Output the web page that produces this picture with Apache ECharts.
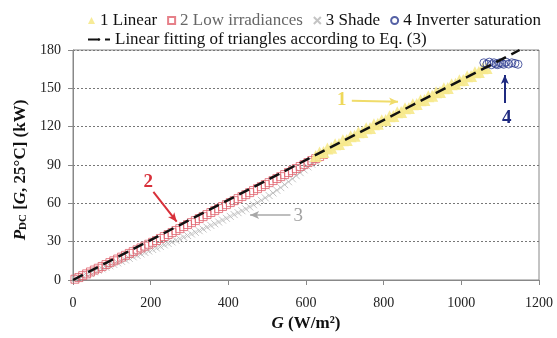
<!DOCTYPE html>
<html>
<head>
<meta charset="utf-8">
<script src="https://cdn.jsdelivr.net/npm/echarts@6/dist/echarts.min.js"></script>
<style>
  html, body { margin: 0; padding: 0; background: #fff; }
  #chart { width: 557px; height: 338px; }
</style>
</head>
<body>
<div id="chart"></div>
<script>
// series names
var nameLinear = '1 Linear';
var nameLow = '2 Low irradiances';
var nameShade = '3 Shade';
var nameSat = '4 Inverter saturation';
var nameFit = 'Linear fitting of triangles according to Eq. (3)';

// axis ticks
var xTicks = [0, 200, 400, 600, 800, 1000, 1200];
var yTicks = [0, 30, 60, 90, 120, 150, 180];

// 2 Low irradiances (G, P)
var lowG = [5, 15, 25, 35, 45, 55, 65, 75, 85, 95, 105, 115, 125, 135, 145, 155, 165, 175, 185, 195,
  205, 215, 225, 235, 245, 255, 265, 275, 285, 295, 305, 315, 325, 335, 345, 355, 365, 375, 385, 395,
  405, 415, 425, 435, 445, 455, 465, 475, 485, 495, 505, 515, 525, 535, 545, 555, 565, 575, 585, 595,
  605, 615, 625, 635, 645];
var lowP = [0.6, 1.9, 3.4, 4.8, 6.3, 7.8, 9.2, 10.6, 12.1, 13.6, 15.0, 16.4, 17.9, 19.3, 20.8, 22.2, 23.6, 25.1, 26.5, 28.0,
  29.5, 30.9, 32.5, 34.0, 35.6, 37.1, 38.7, 40.2, 41.8, 43.4, 44.9, 46.5, 48.1, 49.6, 51.2, 52.8, 54.3, 55.9, 57.5, 59.0,
  60.6, 62.1, 63.7, 65.3, 66.8, 68.4, 70.0, 71.5, 73.1, 74.7, 76.2, 77.8, 79.4, 80.9, 82.5, 84.1, 85.6, 87.2, 88.8, 90.3,
  91.9, 93.5, 95.0, 96.6, 98.2];

// 3 Shade (G, P)
var shadeG = [5, 15, 25, 35, 45, 55, 65, 75, 85, 95, 105, 115, 125, 135, 145, 155, 165, 175, 185, 195,
  205, 215, 225, 235, 245, 255, 265, 275, 285, 295, 305, 315, 325, 335, 345, 355, 365, 375, 385, 395,
  405, 415, 425, 435, 445, 455, 465, 475, 485, 495, 505, 515, 525, 535, 545, 555, 565, 575, 585, 595,
  605, 615, 625];
var shadeP = [0.6, 1.7, 2.9, 4.1, 5.2, 6.4, 7.6, 8.7, 9.9, 11.1, 12.2, 13.4, 14.6, 15.7, 16.9, 18.1, 19.2, 20.4, 21.6, 22.7,
  23.9, 25.0, 26.2, 27.5, 28.6, 29.8, 31.1, 32.2, 33.5, 34.8, 36.0, 37.3, 38.6, 39.9, 41.3, 42.7, 44.0, 45.4, 46.9, 48.3,
  49.8, 51.2, 52.7, 54.2, 55.6, 57.2, 58.9, 60.6, 62.4, 64.3, 66.1, 68.1, 70.2, 72.3, 74.6, 76.9, 79.2, 81.6, 84.0, 86.2,
  88.5, 90.6, 92.8];

// 1 Linear (G, P)
var linG = [625, 635, 645, 655, 665, 675, 685, 695, 705, 715, 725, 735, 745, 755, 765, 775, 785, 795, 805, 815,
  825, 835, 845, 855, 865, 875, 885, 895, 905, 915, 925, 935, 945, 955, 965, 975, 985, 995, 1005, 1015,
  1025, 1035, 1045, 1055, 1065];
var linP = [97.0, 99.8, 100.2, 103.0, 103.5, 106.2, 106.5, 109.3, 109.6, 112.5, 112.8, 115.6, 115.9, 118.8, 119.0, 121.9, 122.2, 125.0, 125.3, 128.1,
  128.4, 131.3, 131.5, 134.4, 134.7, 137.5, 137.8, 140.7, 140.9, 143.8, 144.1, 146.9, 147.2, 150.1, 150.3, 153.2, 153.5, 156.3, 156.6, 159.4,
  159.7, 162.6, 162.8, 165.7, 165.9];

// 4 Inverter saturation (G, P)
var satG = [1058, 1066, 1072, 1078, 1084, 1089, 1094, 1099, 1104, 1109, 1115, 1122, 1130, 1138, 1146];
var satP = [170.0, 169.0, 170.5, 168.5, 170.0, 169.0, 168.5, 170.0, 169.5, 168.8, 170.5, 169.0, 170.0, 169.5, 168.8];

// linear fit, Eq. (3)
var fitG = [0, 1150];
var fitP = [0, 180];

function pairs(xs, ys) {
  return xs.map(function (x, i) { return [x, ys[i]]; });
}

var serif = 'Liberation Serif';
var chart = echarts.init(document.getElementById('chart'));

var option = {
  animation: false,
  backgroundColor: '#fff',
  textStyle: { fontFamily: serif },
  grid: {
    left: 73, right: 18, top: 50, bottom: 58,
    show: true, borderColor: '#888', borderWidth: 1
  },
  legend: [
    {
      left: 83, top: 7,
      itemWidth: 7, itemHeight: 7, itemGap: 10,
      textStyle: { fontFamily: serif, fontSize: 17, color: '#111' },
      data: [
        { name: nameLinear },
        { name: nameLow, textStyle: { color: '#666' } },
        { name: nameShade },
        { name: nameSat }
      ]
    },
    {
      left: 82, top: 26,
      itemWidth: 22, itemHeight: 3, itemGap: 10,
      textStyle: { fontFamily: serif, fontSize: 17, color: '#111' },
      data: [nameFit]
    }
  ],
  xAxis: {
    type: 'value', min: 0, max: 1200, interval: 200,
    name: '{i|G}{n| (W/m²)}',
    nameLocation: 'middle', nameGap: 34,
    nameTextStyle: {
      rich: {
        i: { fontFamily: serif, fontSize: 17, fontWeight: 'bold', fontStyle: 'italic', color: '#111' },
        n: { fontFamily: serif, fontSize: 17, fontWeight: 'bold', color: '#111' }
      }
    },
    axisLine: { lineStyle: { color: '#888' } },
    axisTick: { show: true, length: 5, lineStyle: { color: '#888' } },
    axisLabel: {
      margin: 16, fontFamily: serif, fontSize: 14, color: '#222',
      formatter: function (v) { return xTicks.indexOf(v) >= 0 ? String(v) : ''; }
    },
    splitLine: { show: false }
  },
  yAxis: {
    type: 'value', min: 0, max: 180, interval: 30,
    name: '{i|P}{sub|DC}{n| [}{i|G}{n|, 25°C] (kW)}',
    nameLocation: 'middle', nameGap: 42, nameRotate: 90,
    nameTextStyle: {
      padding: [0, 10, 0, 0],
      rich: {
        i: { fontFamily: serif, fontSize: 17, fontWeight: 'bold', fontStyle: 'italic', color: '#111' },
        sub: { fontFamily: serif, fontSize: 11, fontWeight: 'bold', color: '#111', verticalAlign: 'bottom', padding: [6, 0, 0, 0] },
        n: { fontFamily: serif, fontSize: 17, fontWeight: 'bold', color: '#111' }
      }
    },
    axisLine: { show: true, lineStyle: { color: '#888' } },
    axisTick: { show: true, length: 5, lineStyle: { color: '#888' } },
    axisLabel: {
      margin: 12, fontFamily: serif, fontSize: 14, color: '#222',
      formatter: function (v) { return yTicks.indexOf(v) >= 0 ? String(v) : ''; }
    },
    splitLine: { show: true, lineStyle: { color: '#777', width: 1, type: [2, 2] } }
  },
  series: [
    {
      name: nameShade, type: 'scatter',
      symbol: 'path://M0,0L10,10M10,0L0,10', symbolSize: 7,
      itemStyle: { color: 'rgba(0,0,0,0)', borderColor: '#b5b5b5', borderWidth: 1 },
      data: pairs(shadeG, shadeP)
    },
    {
      name: nameLow, type: 'scatter',
      symbol: 'rect', symbolSize: 8,
      itemStyle: { color: 'rgba(0,0,0,0)', borderColor: '#e0606c', borderWidth: 1 },
      data: pairs(lowG, lowP)
    },
    {
      name: nameLinear, type: 'scatter',
      symbol: 'triangle', symbolSize: 12,
      itemStyle: { color: '#f6e98c', opacity: 0.9 },
      data: pairs(linG, linP)
    },
    {
      name: nameSat, type: 'scatter',
      symbol: 'circle', symbolSize: 8,
      itemStyle: { color: 'rgba(0,0,0,0)', borderColor: '#2b3a8f', borderWidth: 1 },
      data: pairs(satG, satP)
    },
    {
      name: nameFit, type: 'line',
      symbol: 'none',
      lineStyle: { color: '#111', width: 2.5, type: [11, 6] },
      itemStyle: { color: '#111' },
      data: pairs(fitG, fitP),
      z: 5
    },
    {
      name: 'notes', type: 'scatter', data: [], z: 6,
      markLine: {
        silent: true,
        symbol: ['none', 'arrow'], symbolSize: [6, 9],
        label: { show: false },
        data: [
          [{ coord: [718, 140.3], lineStyle: { color: '#f0dc6a', width: 2, type: 'solid' } }, { coord: [837, 139.5] }],
          [{ coord: [207, 69], lineStyle: { color: '#d8303a', width: 2, type: 'solid' } }, { coord: [267, 45.6] }],
          [{ coord: [560, 50.9], lineStyle: { color: '#a8a8a8', width: 1.5, type: 'solid' } }, { coord: [456, 50.9] }],
          [{ coord: [1112, 138.5], lineStyle: { color: '#1f2a80', width: 2, type: 'solid' } }, { coord: [1112, 160.4] }]
        ]
      },
      markPoint: {
        silent: true,
        symbol: 'circle', symbolSize: 0,
        data: [
          { coord: [692, 140.9], label: { show: true, formatter: '1', color: '#eed85a', fontSize: 19, fontWeight: 'bold', fontFamily: serif } },
          { coord: [194, 77], label: { show: true, formatter: '2', color: '#d8303a', fontSize: 19, fontWeight: 'bold', fontFamily: serif } },
          { coord: [580, 50], label: { show: true, formatter: '3', color: '#a0a0a0', fontSize: 19, fontFamily: serif } },
          { coord: [1117, 126.8], label: { show: true, formatter: '4', color: '#1f2a80', fontSize: 19, fontWeight: 'bold', fontFamily: serif } }
        ]
      }
    }
  ]
};

chart.setOption(option);
</script>
</body>
</html>
